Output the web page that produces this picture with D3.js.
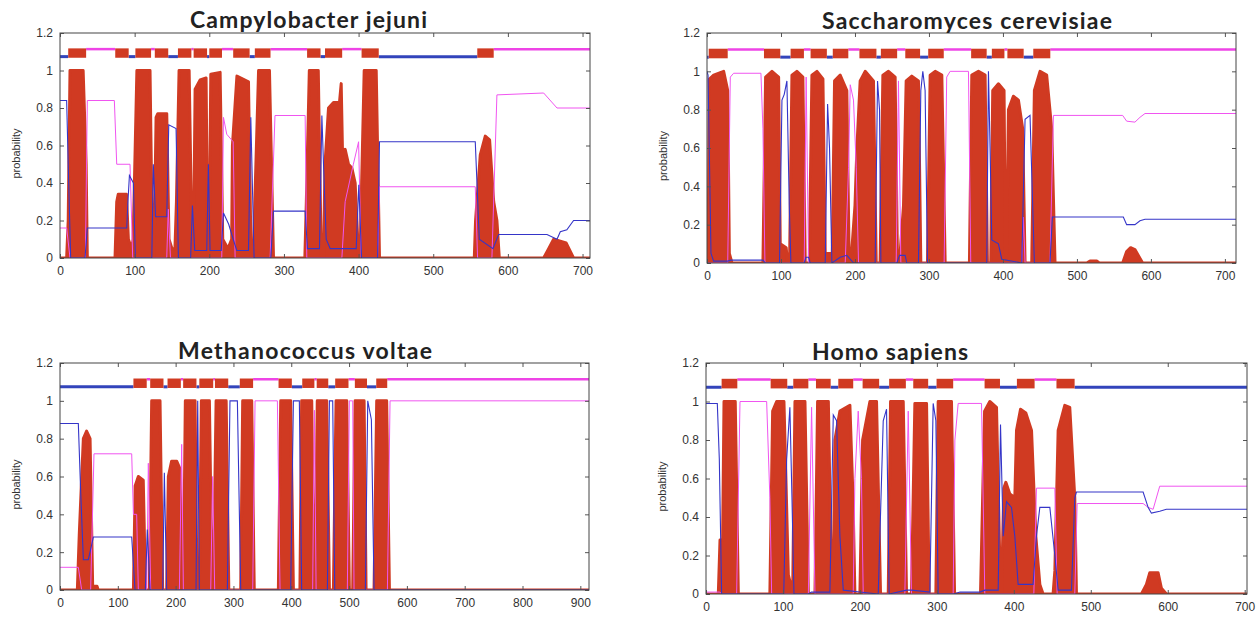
<!DOCTYPE html>
<html>
<head>
<meta charset="utf-8">
<style>
body { margin: 0; background: #fff; }
svg { display: block; }
.tick text { font-family: "Liberation Sans", Arial, sans-serif; font-size: 12px; fill: #333; }
.title { font-family: Lato, "Open Sans", sans-serif; font-weight: 700; font-size: 23px; fill: #222; }
.ylab { font-family: "Liberation Sans", Arial, sans-serif; font-size: 11px; fill: #333; }
</style>
</head>
<body>
<div id="chart"></div>
<script src="https://cdn.jsdelivr.net/npm/d3@7"></script>
<script>
// shared tick values
var yTicks = [0, 0.2, 0.4, 0.6, 0.8, 1, 1.2];
var xTicks700 = [0, 100, 200, 300, 400, 500, 600, 700];
var xTicks900 = [0, 100, 200, 300, 400, 500, 600, 700, 800, 900];

// Campylobacter jejuni
var cjTm = [[0,0],[8.9,0],[11,0.2],[13.4,1.0],[31,1.0],[35,0.5],[36.6,0],
  [73.7,0],[76,0.3],[78,0.34],[89,0.34],[91.6,0.1],[96,0.05],
  [98,0.1],[103,1.0],[120.6,1.0],[124,0],
  [126,0],[128.7,0.75],[131,0.77],[143,0.77],[146,0.1],[150,0.05],[154,0.05],
  [156,0.3],[159.5,1.0],[173,1.0],[177,0],
  [178.7,0],[181,0.9],[187.7,0.95],[195.7,0.96],[198,0],
  [199.7,0],[202,0.98],[214.5,0.99],[218,0.1],[225,0.05],[230,0.1],
  [231,0.6],[237,0.97],[252.5,0.94],[256,0],
  [259,0],[261,0.3],[266,1.0],[280.6,1.0],[286,0],
  [328,0],[330,0.3],[334,1.0],[346,1.0],[350,0],
  [353,0],[355,0.5],[359.7,0.8],[366.4,0.83],[374.4,0.83],[376.7,0.93],[378.5,0.55],[382,0.58],[386.5,0.5],[391,0.48],[395.4,0.4],[400,0],
  [402,0],[403.5,0.3],[407.5,1.0],[423.6,1.0],[428,0],
  [555,0],[556.7,0.2],[563,0.55],[569.7,0.65],[575.5,0.63],[581,0.3],[585.3,0.2],[588.5,0],
  [647.9,0],[654.6,0.05],[661.3,0.1],[678,0.08],[688,0],[710,0]];
var cjIn = [[0,0.84],[8.9,0.84],[11,0.5],[14.3,0],[33.5,0],[36.6,0.16],[89.4,0.16],[91,0.3],[93,0.44],[98.3,0.4],[101,0],
  [123,0],[125,0.5],[128,0.22],[143,0.22],[145.7,0.71],[155.5,0.69],[158.6,0],[175,0],[177.4,0.28],[180.5,0.04],
  [196.6,0.04],[198.8,0.5],[201,0.04],[216,0.04],[219,0.24],[226,0.18],[232,0.1],[236.8,0.04],[252.5,0.04],[255.6,0.75],[260,0],
  [282.4,0],[286,0.25],[328.4,0.25],[331.5,0.05],[347.6,0.05],[350.8,0.76],[353,0.5],[356.6,0.1],[362,0.05],[396.8,0.05],[400.3,0.39],[404,0],
  [425.4,0],[428,0.62],[556.3,0.62],[561.7,0.1],[580,0.05],[587.6,0.125],[652.4,0.125],[665.8,0.1],[670.2,0.14],[679,0.15],[688,0.2],[710,0.2]];
var cjOut = [[0,0.16],[8.9,0.16],[13.4,0],[34,0],[36.6,0.84],[72.8,0.84],[76,0.5],[93.8,0.5],[97.4,0],[143,0],[145,0.26],[148,0],
  [216.7,0],[219,0.75],[223.4,0.66],[232,0.62],[234.6,0],[281.5,0],[288,0.76],[328.4,0.76],[330.6,0],[377.6,0],[382,0.3],[393,0.5],[400,0.62],[403.5,0],
  [425.4,0],[428,0.38],[556.3,0.38],[559.4,0],[578.6,0],[585.3,0.87],[647.9,0.88],[665.8,0.8],[710,0.8]];
var cjTmStart = [11, 74, 101, 127, 158, 179, 200, 232, 261, 331, 355, 404, 559];
var cjTmEnd   = [35, 92, 122, 145, 176, 197, 217, 254, 282, 349, 378, 427, 581];

// Saccharomyces cerevisiae
var scTm = [[0,0],[1.4,0],[3.2,0.96],[9,0.98],[22.5,1.0],[28,0.9],[30.2,0.05],[33.8,0],
  [75.6,0],[79.2,0.97],[87.8,1.0],[96.8,0.97],[99,0.1],[107,0.08],[109,0],
  [111.6,0],[114.8,0.98],[121.5,1.0],[129.6,0.97],[132.8,0],
  [138.2,0],[141.8,0.98],[148.6,1.0],[156.7,0.96],[159.8,0.05],[169.3,0.05],
  [172.4,0.95],[180,0.98],[189,0.9],[192,0.05],[195.4,0.05],[200,0.3],
  [202.6,0.6],[207,0.95],[213.8,1.0],[225,0.95],[228.7,0],
  [234,0],[237.7,0.98],[245.3,1.0],[254.3,0.97],[257.5,0],
  [261,0.05],[265.6,0.3],[269.2,0.95],[276.8,0.975],[285.8,0.95],[289,0],
  [298,0],[301.6,0.98],[308.4,1.0],[317.4,0.98],[321.9,0],
  [354.7,0],[357.9,0.98],[366.9,1.0],[375.9,0.98],[379,0],
  [383.5,0],[386.2,0.9],[393.9,0.935],[401.5,0.9],[403.3,0.05],
  [405.1,0.05],[407.4,0.8],[414.1,0.87],[420.9,0.85],[426.7,0.7],[429.9,0],
  [438.9,0],[442.5,0.9],[450.1,1.0],[459.1,0.98],[465.9,0.7],[470.4,0],
  [513.2,0],[517.7,0.01],[526.7,0.01],[530.3,0],
  [561.8,0],[567.2,0.06],[572.6,0.08],[578.4,0.07],[588.8,0],[715,0]];
var scIn = [[0,1.0],[1.4,0.98],[5.4,0.05],[9,0.01],[28,0.01],[32.4,0.015],[75.6,0.015],[78.8,0],[98,0],[101.3,0.85],[104.4,0.88],[108,0.95],[111.2,0.3],[113.4,0],
  [131.4,0],[133.7,0.03],[137.3,0.03],[139.5,0],[159.8,0],[163,0.83],[165.6,0.6],[168.8,0],[180,0.03],[189,0.04],[193.6,0.02],[198,0],
  [227.3,0],[230.5,0.95],[233.2,0.8],[235,0],[256.6,0],[260.2,0.04],[267.8,0.04],[270,0],[285.8,0],[289,0.9],[291.7,1.0],[294.8,0.9],[298,0],
  [378.1,0],[380.4,1.0],[382.6,0.6],[384.9,0.12],[393.9,0.1],[398.4,0.02],[425.4,0],[429.9,0.75],[436.6,0.77],[440.2,0.3],[442.5,0],
  [463.6,0],[466.8,0.24],[562.7,0.24],[567.2,0.2],[578.4,0.2],[585.2,0.22],[592,0.228],[715,0.228]];
var scOut = [[0,0],[28,0],[31.5,0.97],[36,0.99],[72.9,0.99],[75.6,0.7],[78.3,0],[131.4,0],[134,0.97],[137.3,0],
  [186.8,0],[191.3,0.5],[193.6,0.93],[198,0.85],[201.7,0.5],[204.8,0],[255.7,0],[258.8,0.95],[262,0],
  [320.5,0],[324,0.97],[328.6,1.0],[353.4,1.0],[356.5,0],[425.4,0],[427.6,0.24],[429.9,0],
  [463.6,0],[468.2,0.77],[561.8,0.77],[567.2,0.74],[578.4,0.735],[585.2,0.76],[592,0.78],[715,0.78]];
var scTmStart = [2.3, 77, 113, 140, 170, 206, 235, 268, 299, 357, 385, 406, 441];
var scTmEnd   = [28, 99, 131, 162, 191, 229, 257, 288, 320, 378, 402, 428, 464];

// Methanococcus voltae
var mvTm = [[0,0],[30,0],[33.4,0.3],[40.4,0.8],[46,0.84],[52,0.8],[56.5,0.02],[64,0.02],[66,0],
  [127,0],[130,0.55],[135.5,0.6],[144,0.58],[148,0],
  [154.5,0],[158.6,1.0],[173,1.0],[177.6,0],
  [184.5,0],[187.4,0.6],[193,0.68],[202,0.68],[207.6,0.64],[211,0],
  [213.4,0],[216.8,1.0],[233.6,1.0],[237,0],
  [241,0],[244.5,1.0],[258.4,1.0],[263,0],
  [265.3,0],[270,1.0],[287.4,1.0],[292,0],
  [312.6,0],[316,1.0],[331.6,1.0],[336,0],
  [377.7,0],[381.8,1.0],[399,1.0],[403.7,0],
  [415,0],[418,1.0],[435.4,1.0],[439.4,0],
  [441,0],[445,1.0],[461.3,1.0],[466,0],
  [472.9,0],[477.5,1.0],[496,1.0],[500.5,0],
  [506.3,0],[510.4,1.0],[526,1.0],[529.4,0],
  [543.2,0],[547.8,1.0],[565,1.0],[569.8,0],[915,0]];
var mvIn = [[0,0.88],[31.7,0.88],[36,0.5],[40.4,0.16],[49,0.16],[57.7,0.28],[124,0.28],[129.8,0],[147.6,0],[151,0.32],[155.7,0],
  [177.6,0],[180.5,0.62],[184.5,0],[235.3,0],[238.2,1.0],[241,0],[289.5,0],[294,1.0],[306.8,1.0],[312.6,0],
  [399,0],[403.7,1.0],[414,1.0],[418,0],[462.5,0],[466,1.0],[471.7,1.0],[475.2,0],[528.2,0],[532.3,1.0],[538.6,0.9],[543.2,0],[915,0]];
var mvOut = [[0,0.12],[31.7,0.12],[37.5,0],[53,0],[58.8,0.72],[124,0.72],[127,0.4],[132.6,0.4],[135.5,0],[150,0],[152.8,0.67],[156.9,0],
  [206.5,0],[210.5,0.77],[213.4,0],[260.7,0],[264,0.6],[267.6,0],[333.3,0],[337.4,1.0],[376,1.0],[380.6,0],
  [437,0],[440,0.95],[443,0],[497,0],[500.5,1.0],[506.3,1.0],[508.6,0],[566.3,0],[570.9,1.0],[915,1.0]];
var mvTmStart = [127, 156, 186, 213, 241, 268, 311, 378, 419, 444, 476, 510, 547];
var mvTmEnd   = [150, 179, 209, 236, 265, 291, 334, 401, 440, 464, 499, 531, 566];

// Homo sapiens
var hsTm = [[0,0],[16,0],[18.2,0.28],[21.6,0.28],[23.4,1.0],[38,1.0],[42,0],
  [83,0],[86.6,0.95],[91.8,1.0],[101.3,1.0],[107,0.1],[110,0.05],
  [112.6,0],[115.6,1.0],[128.6,1.0],[133,0],
  [141.6,0],[145,1.0],[159,1.0],[162.8,0.1],[165.4,0.1],
  [167.5,0.8],[174,0.95],[187,0.98],[191,0.5],[193.5,0],
  [200,0],[203.5,0.8],[213,1.0],[221.6,1.0],[226.8,0],
  [236.8,0],[239.8,1.0],[256.3,1.0],[260.6,0],
  [267,0],[271.4,0.99],[286.6,0.99],[290,0],
  [298.7,0],[301.7,1.0],[319,1.0],[323,0],
  [356.7,0],[362,0.95],[368.8,1.0],[377.5,0.97],[382.7,0],
  [384,0],[387,0.55],[389.6,0.58],[394.8,0.52],[401.3,0.5],[403.5,0.85],[408.7,0.96],[415.6,0.94],[423,0.85],[428.6,0.3],[433.8,0.05],[438,0],
  [451,0],[453.3,0.12],[457.6,0.85],[466.2,0.98],[472.7,0.97],[479.2,0.5],[481.4,0],
  [565.8,0],[572.3,0.05],[576.6,0.11],[587.5,0.11],[591.8,0.03],[598.3,0],[703,0]];
var hsIn = [[0,0.99],[14.7,0.99],[17.3,0.7],[20.3,0],[101,0],[104.8,0.7],[109,0.97],[111.7,0.5],[114.3,0],[133,0],[137,0.01],[161,0.01],
  [165.4,0.93],[169.7,0.9],[174,0.3],[178.4,0.02],[200,0.01],[223.8,0],[230.3,0.9],[234.6,0.96],[238,0],[260.6,0.02],[267,0.02],
  [290.9,0.01],[295.2,0.99],[298.7,0.9],[301.7,0],[322,0],[330,0.01],[356,0.01],[362.3,0.02],[379.7,0.02],[382.7,0.88],[386.2,0.3],
  [390.5,0.48],[397,0.45],[401.3,0.3],[405.6,0.05],[425,0.05],[429.4,0.3],[433.8,0.45],[446.8,0.45],[453.3,0.2],[457.6,0.02],
  [474.9,0.02],[479.2,0.5],[481.4,0.53],[568,0.53],[574.5,0.45],[578.8,0.42],[589.6,0.43],[598.3,0.44],[703,0.44]];
var hsOut = [[0,0.01],[18,0.01],[20.3,0],[39.8,0],[44.2,1.0],[78.8,1.0],[83,0.5],[85.3,0],[133,0],[137.2,0.97],[141.6,0],
  [191.3,0],[193.5,0.6],[197.8,0.95],[202,0.6],[204.3,0],[258.4,0],[262.8,0.95],[267,0],[321.2,0],[323.4,0.8],[327.7,0.99],[358,0.99],[362.3,0],
  [426,0],[429.4,0.55],[453.3,0.55],[456.3,0],[479.2,0],[482.3,0.47],[568,0.47],[574.5,0.45],[581,0.44],[589.6,0.56],[703,0.56]];
var hsTmStart = [20.3, 84, 113.4, 142.9, 171.9, 203.5, 238, 269.3, 299.6, 362, 404, 455.4];
var hsTmEnd   = [40.7, 105.6, 133, 162, 191.3, 225, 259.7, 288.7, 321.2, 382, 427, 479];

var W = 1259, H = 618;
var svg = d3.select("#chart").append("svg").attr("width", W).attr("height", H);

var panels = [
  { title: "Campylobacter jejuni", tx: 190, ty: 28, tw: 237, left: 60, right: 590, top: 33, bottom: 258, xmax: 710, xticks: xTicks700,
    tm: cjTm, inside: cjIn, outside: cjOut, tmStart: cjTmStart, tmEnd: cjTmEnd },
  { title: "Saccharomyces cerevisiae", tx: 822, ty: 29, tw: 290, left: 707, right: 1236, top: 33, bottom: 263, xmax: 715, xticks: xTicks700,
    tm: scTm, inside: scIn, outside: scOut, tmStart: scTmStart, tmEnd: scTmEnd },
  { title: "Methanococcus voltae", tx: 178, ty: 359, tw: 254, left: 60, right: 589, top: 363, bottom: 590, xmax: 915, xticks: xTicks900,
    tm: mvTm, inside: mvIn, outside: mvOut, tmStart: mvTmStart, tmEnd: mvTmEnd },
  { title: "Homo sapiens", tx: 812, ty: 360, tw: 156, left: 706, right: 1247, top: 363, bottom: 594, xmax: 703, xticks: xTicks700,
    tm: hsTm, inside: hsIn, outside: hsOut, tmStart: hsTmStart, tmEnd: hsTmEnd }
];

var red = "#d03a22", blue = "#3535c8", pink = "#f055f0";

panels.forEach(function(p) {
  var x = d3.scaleLinear().domain([0, p.xmax]).range([p.left, p.right]);
  var y = d3.scaleLinear().domain([0, 1.2]).range([p.bottom, p.top]);
  var g = svg.append("g");

  // clip so the thick red outline stays inside the frame
  var cid = "clip" + p.left + "_" + p.top;
  g.append("clipPath").attr("id", cid).append("rect")
    .attr("x", p.left).attr("y", p.top).attr("width", p.right - p.left).attr("height", p.bottom - p.top);
  var plot = g.append("g").attr("clip-path", "url(#" + cid + ")");

  // TM probability area (thick outline mimics the impulse rendering)
  var area = d3.area().x(function(d) { return x(d[0]); }).y0(y(0)).y1(function(d) { return y(d[1]); });
  plot.append("path").datum(p.tm).attr("d", area)
    .attr("fill", red).attr("stroke", red).attr("stroke-width", 3).attr("stroke-linejoin", "round");

  var line = d3.line().x(function(d) { return x(d[0]); }).y(function(d) { return y(d[1]); });
  plot.append("path").datum(p.outside).attr("d", line)
    .attr("fill", "none").attr("stroke", pink).attr("stroke-width", 1);
  plot.append("path").datum(p.inside).attr("d", line)
    .attr("fill", "none").attr("stroke", blue).attr("stroke-width", 1.1);

  // topology bar
  var side = "in", pos = 0, segs = [];
  p.tmStart.forEach(function(s, i) {
    segs.push({ a: pos, b: s, side: side });
    side = side === "in" ? "out" : "in";
    pos = p.tmEnd[i];
  });
  segs.push({ a: pos, b: p.xmax, side: side });
  segs.forEach(function(s) {
    var yy = s.side === "in" ? y(1.074) : y(1.114);
    plot.append("line").attr("x1", x(s.a)).attr("x2", x(s.b)).attr("y1", yy).attr("y2", yy)
      .attr("stroke", s.side === "in" ? "#3344bb" : "#ee44e6")
      .attr("stroke-width", s.side === "in" ? 3 : 2.5);
  });
  p.tmStart.forEach(function(s, i) {
    plot.append("rect").attr("x", x(s)).attr("width", x(p.tmEnd[i]) - x(s))
      .attr("y", y(1.118)).attr("height", y(1.068) - y(1.118)).attr("fill", red);
  });

  // axes (ticks pointing inward, mirrored on top and right)
  var fmt = d3.format("~g");
  var ax = g.append("g").attr("transform", "translate(0," + p.bottom + ")")
    .call(d3.axisBottom(x).tickValues(p.xticks).tickSize(-4).tickPadding(8).tickFormat(fmt));
  var ay = g.append("g").attr("transform", "translate(" + p.left + ",0)")
    .call(d3.axisLeft(y).tickValues(yTicks).tickSize(-4).tickPadding(7).tickFormat(fmt));
  var at = g.append("g").attr("transform", "translate(0," + p.top + ")")
    .call(d3.axisTop(x).tickValues(p.xticks).tickSize(-4).tickFormat(""));
  var ar = g.append("g").attr("transform", "translate(" + p.right + ",0)")
    .call(d3.axisRight(y).tickValues(yTicks).tickSize(-4).tickFormat(""));
  [ax, ay, at, ar].forEach(function(a) {
    a.select(".domain").remove();
    a.selectAll(".tick line").attr("stroke", "#555");
  });
  g.append("rect").attr("x", p.left).attr("y", p.top)
    .attr("width", p.right - p.left).attr("height", p.bottom - p.top)
    .attr("fill", "none").attr("stroke", "#444").attr("stroke-width", 1);

  g.append("text").attr("class", "ylab")
    .attr("transform", "translate(" + (p.left - 40) + "," + ((p.top + p.bottom) / 2 + 8) + ") rotate(-90)")
    .attr("text-anchor", "middle").text("probability");

  g.append("text").attr("class", "title").attr("x", p.tx).attr("y", p.ty)
    .attr("textLength", p.tw).text(p.title);
});
</script>
</body>
</html>
